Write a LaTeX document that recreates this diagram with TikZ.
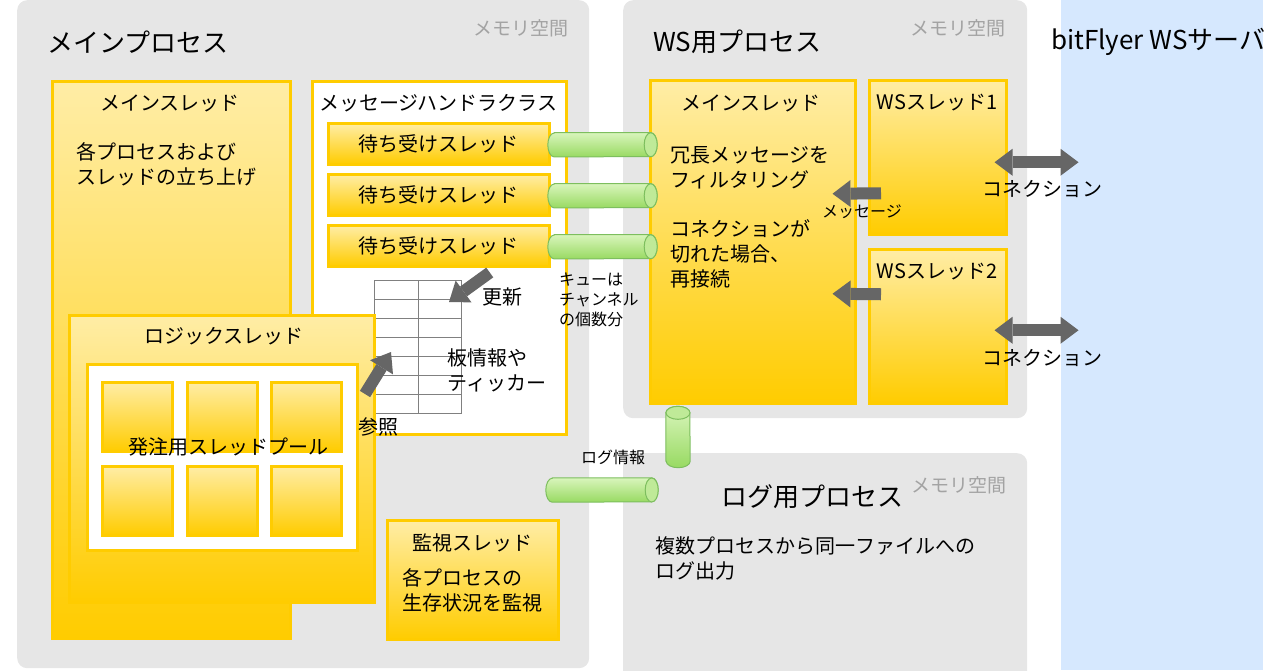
\documentclass[tikz,border=0pt]{standalone}
\usepackage{fontspec}
\setmainfont{Noto Sans CJK JP}
\usepackage{xcolor}
\usepackage{tikz}
\usetikzlibrary{positioning, shapes, calc, arrows.meta}
\definecolor{procgray}{HTML}{E6E6E6}
\definecolor{srvblue}{HTML}{D6E8FE}
\definecolor{thrgold}{HTML}{FFCC00}
\definecolor{thrlight}{HTML}{FFEDA6}
\definecolor{cyltop}{HTML}{D9F5BC}
\definecolor{cylbot}{HTML}{98DA62}
\definecolor{cylline}{HTML}{7DBE5E}
\definecolor{arrgray}{HTML}{666666}
\definecolor{memgray}{HTML}{A3A3A3}
\definecolor{tblgray}{HTML}{808080}

\begin{document}
\begin{tikzpicture}[x=1pt, y=-1pt]
		\tikzstyle{proc}=[fill=procgray, rounded corners=10pt, anchor=north west, inner sep=0pt]
		\tikzstyle{thr}=[draw=thrgold, line width=2.5pt, top color=thrlight, bottom color=thrgold, anchor=north west, inner sep=0pt]
		\tikzstyle{pane}=[draw=thrgold, line width=2.5pt, fill=white, anchor=north west, inner sep=0pt]
		\tikzstyle{title}=[font=\fontsize{26pt}{30pt}\selectfont, inner sep=0pt]
		\tikzstyle{mem}=[font=\fontsize{19pt}{22pt}\selectfont, text=memgray, inner sep=0pt]
		\tikzstyle{lbl}=[font=\fontsize{20pt}{25pt}\selectfont, inner sep=0pt, align=left]
		\tikzstyle{small}=[font=\fontsize{16pt}{20pt}\selectfont, inner sep=0pt, align=left]
		\tikzstyle{lst}=[thr, font=\fontsize{20pt}{25pt}\selectfont, minimum width=221pt, minimum height=41pt]
		\tikzstyle{queue}=[inner sep=0pt, minimum width=109pt, minimum height=24pt]
		\tikzstyle{tube}=[top color=cyltop, bottom color=cylbot, draw=cylline, line width=1pt]
		\tikzstyle{tubeend}=[fill=cyltop!60!cylbot, draw=cylline, line width=1pt]
		\tikzstyle{fat}=[draw=arrgray, line width=12pt, -{Triangle[width=27pt, length=18pt, line width=0pt]}]
		\tikzstyle{fatboth}=[draw=arrgray, line width=12pt, {Triangle[width=27pt, length=18pt, line width=0pt]}-{Triangle[width=27pt, length=18pt, line width=0pt]}]
		
		\useasboundingbox (0,0) rectangle (1280,670);
		
		%% process areas and server
		\node[proc, minimum width=572pt, minimum height=668pt] (P1) at (17,0) {};
		\node[proc, minimum width=404pt, minimum height=418pt] (P2) at (623,0) {};
		\node[proc, minimum width=404pt, minimum height=240pt] (P3) at (623,453) {};
		\node[fill=srvblue, anchor=north west, inner sep=0pt, minimum width=202pt, minimum height=670pt] (S1) at (1061,0) {};
		
		\node[title, anchor=west] (P1t) at (47,42) {メインプロセス};
		\node[mem, anchor=east] (P1m) at (569,28) {メモリ空間};
		\node[title, anchor=west] (P2t) at (653,42) {WS用プロセス};
		\node[mem, anchor=east] (P2m) at (1006,28) {メモリ空間};
		\node[title] (P3t) at (812,497) {ログ用プロセス};
		\node[mem, anchor=east] (P3m) at (1007,485) {メモリ空間};
		\node[title, anchor=west] (S1t) at (1051,42) {bitFlyer WSサーバ};
		
		%% main process
		\node[thr, minimum width=238pt, minimum height=557pt] (T1) at (51,80) {};
		\node[lbl] (T1h) at (170,103) {メインスレッド};
		\node[lbl, anchor=west] (T1d) at (76,164) {各プロセスおよび\\スレッドの立ち上げ};
		
		\node[pane, minimum width=254pt, minimum height=353pt] (MH) at (311,80) {};
		\node[lbl] (MHh) at (438,103) {メッセージハンドラクラス};
		\node[lst] (L1) at (327,122) {待ち受けスレッド};
		\node[lst, below=7.5pt of L1] (L2) {待ち受けスレッド};
		\node[lst, below=7.5pt of L2] (L3) {待ち受けスレッド};
		
		\node[draw=tblgray, line width=1pt, minimum width=87pt, minimum height=133pt, anchor=north west, inner sep=0pt] (TB) at (374,280) {};
		\foreach \r in {1,...,6}
		\draw[tblgray, line width=1pt] ($(TB.north west)+(0,19*\r)$) -- ($(TB.north east)+(0,19*\r)$);
		\draw[tblgray, line width=1pt] (TB.north) -- (TB.south);
		
		\node[thr, minimum width=305pt, minimum height=287pt] (T3) at (68,314) {};
		\node[lbl] (T3h) at (224,336) {ロジックスレッド};
		\node[pane, minimum width=270pt, minimum height=186pt] (PL) at (86,363) {};
		\foreach \x in {101,186,270}
		\foreach \y in {381,465}
		\node[thr, minimum width=70pt, minimum height=69pt] (B\x\y) at (\x,\y) {};
		\node[lbl] (PLt) at (228,447) {発注用スレッドプール};
		
		\node[thr, minimum width=171pt, minimum height=119pt] (T4) at (386,519) {};
		\node[lbl] (T4h) at (472,543) {監視スレッド};
		\node[lbl, anchor=west] (T4d) at (402,590) {各プロセスの\\生存状況を監視};
		
		%% ws process
		\node[thr, minimum width=205pt, minimum height=323pt] (T2) at (649,79) {};
		\node[lbl] (T2h) at (751,103) {メインスレッド};
		\node[lbl, anchor=west] (T2a) at (670,168) {冗長メッセージを\\フィルタリング};
		\node[lbl, anchor=west] (T2b) at (670,254) {コネクションが\\切れた場合、\\再接続};
		\node[thr, minimum width=137pt, minimum height=154pt] (W1) at (868,79) {};
		\node[thr, minimum width=137pt, minimum height=154pt, below=12.5pt of W1] (W2) {};
		\node[lbl] (W1h) at (937,103) {WSスレッド1};
		\node[lbl] (W2h) at (937,272) {WSスレッド2};
		
		%% queues
		\foreach \i in {1,2,3}
		\node[queue] (Q\i) at ($(L\i.east)+(52,1)$) {};
		\node[queue, minimum width=24pt, minimum height=61pt] (Q4) at (678,437) {};
		\node[queue, minimum width=112pt] (Q5) at (602,490) {};
		
		\foreach \q in {Q1,Q2,Q3,Q5}{
			\shade[tube] ($(\q.north west)+(6.5,0)$) -- ($(\q.north east)+(-6.5,0)$)
			arc[start angle=90, end angle=-90, x radius=6.5pt, y radius=12pt]
			-- ($(\q.south west)+(6.5,0)$)
			arc[start angle=270, end angle=90, x radius=6.5pt, y radius=12pt] -- cycle;
			\draw[tubeend] ($(\q.east)+(-6.5,0)$) ellipse[x radius=6.5pt, y radius=12pt];
		}
		\shade[tube] ($(Q4.south west)+(0,-6.5)$) -- ($(Q4.north west)+(0,6.5)$)
		arc[start angle=180, end angle=0, x radius=12pt, y radius=6.5pt]
		-- ($(Q4.south east)+(0,-6.5)$)
		arc[start angle=0, end angle=-180, x radius=12pt, y radius=6.5pt] -- cycle;
		\draw[tubeend] ($(Q4.north)+(0,6.5)$) ellipse[x radius=12pt, y radius=6.5pt];
		
		%% arrows
		\draw[fat] ($(L3.south)+(51,5)$) -- ($(TB.north east)+(-13,22)$);
		\draw[fat] ($(TB.south west)+(-9,-20)$) -- ($(TB.south west)+(17,-62)$);
		\draw[fat] ($(W1.west)+(13,36)$) -- ($(T2.east)+(-24,-48)$);
		\draw[fat] ($(W2.west)+(13,-32)$) -- ($(T2.east)+(-24,52)$);
		\draw[fatboth] ($(W1.east)+(-13,5)$) -- ($(W1.east)+(71,5)$);
		\draw[fatboth] ($(W2.east)+(-13,4)$) -- ($(W2.east)+(71,4)$);
		
		%% labels
		\node[lbl] (Ut) at (502,297) {更新};
		\node[lbl] (Rt) at (378,427) {参照};
		\node[lbl, anchor=west] (TBt) at (447,370) {板情報や\\ティッカー};
		\node[small, anchor=west] (Qt) at (559,300) {キューは\\チャンネル\\の個数分};
		\node[small] (Q5t) at (613,457) {ログ情報};
		\node[small] (Mt) at (862,212) {メッセージ};
		\node[lbl] (C1) at (1042,189) {コネクション};
		\node[lbl] (C2) at (1042,358) {コネクション};
		\node[lbl, anchor=west] (P3d) at (655,558) {複数プロセスから同一ファイルへの\\ログ出力};
\end{tikzpicture}
\end{document}
